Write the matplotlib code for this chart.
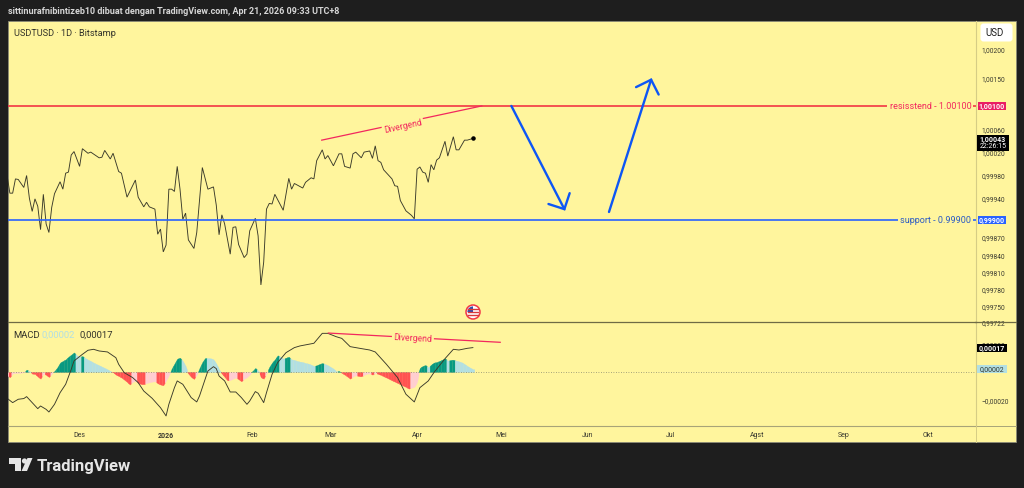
import numpy as np
import matplotlib
matplotlib.use('Agg')
import matplotlib.pyplot as plt
from matplotlib.patches import Rectangle, FancyBboxPatch, Polygon, Circle, Wedge

plt.rcParams['font.family'] = ['Roboto', 'DejaVu Sans']

W, H = 1024, 489

# price line, days counted from 2026-01-01
price_days = [-57, -56, -55, -54, -53, -51, -50, -49, -48, -47, -46, -45, -44, -43, -42, -41, -40, -38, -37, -36,
              -35, -34, -33, -31, -30, -28, -27, -24, -23, -22, -20, -19, -17, -16, -14, -11, -10, -8, -7, -6,
              -4, -3, -2, -1, 0, 1, 2, 3, 4, 5, 6, 7, 8, 10, 11, 13, 15, 17, 18, 19,
              20, 21, 23, 24, 25, 26, 28, 29, 30, 32, 33, 34, 35, 36, 37, 38, 39, 42, 44, 45,
              46, 49, 50, 52, 53, 54, 56, 57, 58, 60, 62, 63, 64, 66, 67, 68, 70, 71, 73, 74,
              75, 76, 77, 78, 81, 82, 83, 84, 86, 87, 88, 89, 90, 91, 92, 93, 94, 95, 96, 97,
              98, 100, 101, 103, 104, 105, 107, 108, 110]
price_vals = [0.99978, 0.99947, 0.99947, 0.99972, 0.99971, 0.99957, 0.99978, 0.99938, 0.99915, 0.99937,
              0.99924, 0.99883, 0.99945, 0.99893, 0.99878, 0.99922, 0.99946, 0.99967, 0.99954, 0.99982,
              0.99984, 1.00014, 1.00020, 0.99994, 1.00025, 1.00017, 1.00019, 1.00009, 1.00010, 1.00022,
              1.00007, 1.00017, 0.99985, 0.99982, 0.99940, 0.99970, 0.99940, 0.99923, 0.99931, 0.99923,
              0.99919, 0.99875, 0.99884, 0.99844, 0.99856, 0.99954, 0.99954, 0.99950, 0.99994, 0.99954,
              0.99901, 0.99912, 0.99865, 0.99850, 0.99878, 0.99992, 0.99954, 0.99958, 0.99926, 0.99874,
              0.99909, 0.99893, 0.99840, 0.99887, 0.99888, 0.99857, 0.99834, 0.99840, 0.99881, 0.99903,
              0.99872, 0.99786, 0.99826, 0.99919, 0.99929, 0.99928, 0.99945, 0.99917, 0.99973, 0.99954,
              0.99964, 0.99956, 0.99966, 0.99974, 0.99972, 1.00004, 1.00023, 1.00007, 1.00013, 0.99995,
              1.00016, 1.00016, 0.99994, 0.99991, 1.00016, 1.00019, 1.00009, 1.00019, 1.00021, 1.00008,
              1.00030, 1.00004, 1.00001, 0.99988, 0.99972, 0.99960, 0.99959, 0.99934, 0.99916, 0.99912,
              0.99908, 0.99902, 0.99989, 0.99993, 0.99984, 0.99982, 0.99966, 0.99997, 0.99988, 1.00005,
              1.00009, 1.00038, 1.00012, 1.00046, 1.00023, 1.00023, 1.00040, 1.00040, 1.00043]

# MACD line
macd_days = [-57, -55, -53, -51, -50, -48, -46, -45, -43, -42, -40, -38, -36, -34, -33, -30, -28, -26, -24, -21,
             -18, -17, -15, -12, -10, -8, -5, -2, 0, 1, 3, 4, 6, 9, 11, 12, 14, 15, 17, 18,
             19, 21, 23, 25, 27, 29, 30, 32, 33, 35, 36, 38, 40, 43, 46, 48, 53, 56, 58, 61,
             63, 66, 70, 73, 75, 79, 83, 86, 89, 91, 94, 96, 100, 103, 105, 108, 110]
macd_vals = [-0.000188, -0.000219, -0.000195, -0.000190, -0.000176, -0.000219, -0.000262, -0.000243, -0.000267,
             -0.000286, -0.000231, -0.000148, -0.000088, 0.000019, 0.000079, 0.000126, 0.000155, 0.000162, 0.000150,
             0.000143, 0.000102, 0.000055, -0.000005, -0.000040, -0.000076, -0.000136, -0.000188, -0.000255, -0.000314,
             -0.000231, -0.000112, -0.000064, -0.000088, -0.000183, -0.000214, -0.000171, -0.000052, 0.000007, 0.000038,
             0.000024, -0.000029, -0.000064, -0.000143, -0.000143, -0.000183, -0.000231, -0.000207, -0.000140, -0.000152,
             -0.000219, -0.000148, -0.000017, 0.000067, 0.000138, 0.000174, 0.000186, 0.000205, 0.000276, 0.000276,
             0.000252, 0.000240, 0.000181, 0.000167, 0.000157, 0.000143, 0.000055, -0.000040, -0.000159, -0.000214,
             -0.000112, -0.000064, -0.000005, 0.000095, 0.000162, 0.000157, 0.000169, 0.000174]

# histogram, one value a day from day -57, in millionths
hist_first_day = -57
hist_vals = [-24, -38, -10, -7, -6, -5, -2, 17, 7, -12, -14, -33, -48, -12, -21, -36, -12, 7, 33, 67,
             79, 90, 109, 124, 140, 119, 109, 114, 100, 88, 79, 67, 57, 48, 38, 29, 19, 7, -2, -19,
             -29, -40, -55, -71, -90, -71, -64, -79, -86, -88, -79, -74, -69, -67, -81, -90, -95, -60, -24, 24,
             60, 95, 102, 79, 43, -12, -36, -50, -19, 29, 71, 100, 99, 98, 90, 60, 19, -12, -36, -60,
             -57, -48, -40, -52, -67, -48, -38, -19, 7, 29, 10, -38, -48, -7, 36, 67, 90, 119, 109, 95,
             102, 109, 90, 86, 79, 74, 71, 64, 60, 52, 43, 48, 57, 64, 57, 48, 36, 24, 5, 7,
             -7, -19, -33, -48, -33, -24, -29, -31, -21, -12, -11, -19, -7, -14, -21, -31, -40, -50, -60, -69,
             -79, -88, -98, -107, -119, -112, -107, -71, 29, 43, 50, 33, 52, 67, 71, 79, 88, 98, 81, 86,
             88, 81, 76, 69, 57, 43, 31, 20]

month_labels = ['Des', '2026', 'Feb', 'Mar', 'Apr', 'Mei', 'Jun', 'Jul', 'Agst', 'Sep', 'Okt']
month_days = [-31, 0, 31, 59, 90, 120, 151, 181, 212, 243, 273]
price_ticks = [1.00200, 1.00150, 1.00060, 1.00020, 0.99980, 0.99940, 0.99870, 0.99840, 0.99810, 0.99780, 0.99750, 0.99722]
macd_ticks = [0.00020, -0.00020]

resistance = 1.00100
support = 0.99900
last_price = 1.00043
last_macd = 0.00017
last_hist = 0.00002

# drawings on the chart, (day, price) or (day, macd)
arrow_down = [(123.8, 1.00100), (142.8, 0.99919)]
arrow_down_head = [(137.1, 0.99928), (142.8, 0.99919), (144.7, 0.99947)]
arrow_up = [(158.8, 0.99914), (173.9, 1.00146)]
arrow_up_head = [(168.5, 1.00133), (173.9, 1.00146), (176.6, 1.00120)]
div_price = [(55.8, 1.00040), (113.2, 1.00100)]
div_macd = [(58.2, 0.000278), (119.8, 0.000212)]

YELLOW = '#fff59d'
DARK = '#1e1e1e'
RED = '#f23645'
PINK = '#f2275e'
BLUE = '#2962ff'
LINE = '#3a3a2a'
TICK = '#3a3a30'


def rect(x0, y0, x1, y1):
    # pixel box, top-left origin, to figure fractions
    return [x0 / W, 1 - y1 / H, (x1 - x0) / W, (y1 - y0) / H]


def fmt(v):
    s = f'{abs(v):.5f}'.replace('.', ',')
    return ('\u2212' + s) if v < 0 else s


fig = plt.figure(figsize=(W / 100, H / 100), dpi=100, facecolor=DARK)

# pixel layers behind and in front of the chart
back = fig.add_axes([0, 0, 1, 1], zorder=-1)
back.set_xlim(0, W)
back.set_ylim(H, 0)
back.axis('off')
front = fig.add_axes([0, 0, 1, 1], zorder=5)
front.set_xlim(0, W)
front.set_ylim(H, 0)
front.axis('off')

back.add_patch(Rectangle((8, 21.5), 1008, 421.5, fc=YELLOW, ec='#8a8a78', lw=0.6))

xlim = (-56.67, 290.2)

ax = fig.add_axes(rect(8, 22, 975.5, 323), facecolor='none')
ax.set_xlim(*xlim)
ax.set_ylim(0.99721, 1.00249)
ax.plot(price_days, price_vals, color=LINE, lw=0.65, solid_joinstyle='miter')
ax.scatter(price_days[-1], price_vals[-1], s=5, color='black', zorder=4)
ax.axhline(resistance, color=RED, lw=1.2)
ax.axhline(support, color=BLUE, lw=1.2)

for seg, head in [(arrow_down, arrow_down_head), (arrow_up, arrow_up_head)]:
    ax.plot(*zip(*seg), color='#0d56f5', lw=1.7, solid_capstyle='round')
    ax.plot(*zip(*head), color='#0d56f5', lw=1.7, solid_capstyle='round', solid_joinstyle='miter')

ax.plot(*zip(*div_price), color=PINK, lw=0.9)
ax.text(84.9, 1.00065, 'Divergend', color=PINK, fontsize=6.2, rotation=12.2, ha='center', va='center',
        rotation_mode='anchor', bbox=dict(fc=YELLOW, ec='none', pad=1.2))

# right hand line labels, the box hides the line under the text
ax.text(288.7, resistance, 'resisstend - 1.00100', color=PINK, fontsize=6.5, ha='right', va='center',
        bbox=dict(fc=YELLOW, ec='none', pad=1.5))
ax.text(288.7, support, 'support - 0.99900', color='#2b5bc4', fontsize=6.5, ha='right', va='center',
        bbox=dict(fc=YELLOW, ec='none', pad=1.5))
ax.text(0.0065, 0.963, 'USDTUSD \u00b7 1D \u00b7 Bitstamp', transform=ax.transAxes, color='#33332a', fontsize=6.6,
        ha='left', va='center')

ax.set_xticks([])
ax.yaxis.tick_right()
ax.set_yticks(price_ticks)
ax.set_yticklabels([fmt(v) for v in price_ticks], fontsize=4.8, color=TICK, va='center_baseline')
ax.tick_params(axis='y', length=0, pad=4.6)
for side in ax.spines:
    ax.spines[side].set_visible(False)
ax.spines['right'].set_visible(True)
ax.spines['right'].set_color('#d6cd85')

ax2 = fig.add_axes(rect(8, 323, 975.5, 427), facecolor='none')
ax2.set_xlim(*xlim)
ax2.set_ylim(-0.000386, 0.000357)

hist = np.array(hist_vals) * 1e-6
days = np.arange(len(hist)) + hist_first_day
for i, v in enumerate(hist):
    rising = i == 0 or v >= hist[i - 1]
    if v >= 0:
        col = '#089981' if rising else '#b2dfe3'
    else:
        col = '#ffcdd2' if rising else '#ff5252'
    # area style: each day slopes from the mean with the day before to the mean with the day after
    before = (hist[i - 1] + v) / 2 if i > 0 else v
    after = (hist[i + 1] + v) / 2 if i < len(hist) - 1 else v
    if before * v < 0:
        before = 0
    if after * v < 0:
        after = 0
    ax2.fill_between([days[i] - 0.5, days[i], days[i] + 0.5], [before, v, after], 0, color=col, lw=0.2)
ax2.axhline(0, color='#8a8a70', lw=0.6, ls=(0, (1, 2)))
ax2.plot(macd_days, macd_vals, color=LINE, lw=0.65)

ax2.plot(*zip(*div_macd), color=PINK, lw=0.9)
ax2.text(88.5, 0.000245, 'Divergend', color=PINK, fontsize=6.2, rotation=-3, ha='center', va='center',
         rotation_mode='anchor', bbox=dict(fc=YELLOW, ec='none', pad=1.2))

ax2.set_xticks(month_days)
ax2.set_xticklabels(month_labels, fontsize=5, color=TICK)
ax2.get_xticklabels()[1].set_fontweight('bold')
ax2.tick_params(axis='x', length=0, pad=3.8)
ax2.yaxis.tick_right()
ax2.set_yticks(macd_ticks)
ax2.set_yticklabels([fmt(v) for v in macd_ticks], fontsize=4.8, color=TICK, va='center_baseline')
ax2.tick_params(axis='y', length=0, pad=4.6)
for side in ax2.spines:
    ax2.spines[side].set_visible(False)
ax2.spines['top'].set_visible(True)
ax2.spines['top'].set_color('#6f6b45')
ax2.spines['top'].set_linewidth(0.9)
ax2.spines['bottom'].set_visible(True)
ax2.spines['bottom'].set_color('#a8a478')
ax2.spines['right'].set_visible(True)
ax2.spines['right'].set_color('#d6cd85')

# pane divider runs on through the price scale, and the time scale line too
front.plot([975, 1016], [323, 323], color='#6f6b45', lw=0.9)
front.plot([975, 1016], [427, 427], color='#a8a478', lw=0.7)
front.plot([976, 976], [427, 443], color='#d6cd85', lw=0.7)

# price scale badges
front.add_patch(Rectangle((978, 103), 28, 8, fc='#e91e63', ec='none'))
front.text(992, 107, fmt(resistance), color='white', fontsize=5, fontweight='bold', ha='center', va='center')
front.add_patch(Rectangle((978, 217), 28, 8, fc=BLUE, ec='none'))
front.text(992, 221, fmt(support), color='white', fontsize=5, fontweight='bold', ha='center', va='center')
front.add_patch(Rectangle((977, 136), 32, 15.5, fc='black', ec='none'))
front.text(993, 140, fmt(last_price), color='white', fontsize=5, fontweight='bold', ha='center', va='center')
front.text(993, 147, '22:26:15', color='white', fontsize=5, ha='center', va='center')
front.add_patch(Rectangle((977, 345), 30, 7.5, fc='black', ec='none'))
front.text(992, 348.7, fmt(last_macd), color='white', fontsize=5, fontweight='bold', ha='center', va='center')
front.add_patch(Rectangle((977, 366), 30, 8, fc='#b2dfe3', ec='none'))
front.text(992, 370, fmt(last_hist), color='#33332a', fontsize=5, ha='center', va='center')

front.add_patch(FancyBboxPatch((982, 26), 29, 15, boxstyle='round,pad=1.5,rounding_size=3', fc='white', ec='none'))
front.text(994.5, 33.5, 'USD', color='#1e1e1e', fontsize=7, ha='center', va='center')

# legend of the MACD pane
front.text(13.5, 335.5, 'MACD', color='#33332a', fontsize=6.8, ha='left', va='center')
front.text(42, 335.5, fmt(last_hist), color='#b2dfe3', fontsize=6.8, ha='left', va='center')
front.text(80, 335.5, fmt(last_macd), color='#33332a', fontsize=6.8, ha='left', va='center')

# event flag
front.add_patch(Circle((473, 313), 7, fc='white', ec='#f23645', lw=1.1))
for yy, cc in [(310, '#d83a3a'), (313, '#d83a3a'), (316, '#d83a3a')]:
    front.plot([468, 478], [yy, yy], color=cc, lw=1.0)
front.add_patch(Wedge((473, 313), 5.6, 180, 270, fc='#2b4fb0', ec='none'))

# header and footer
front.text(8, 11.5, 'sittinurafnibintizeb10 dibuat dengan TradingView.com, Apr 21, 2026 09:33 UTC+8',
           color='#d6d6d6', fontsize=6.45, fontweight='bold', ha='left', va='center')
front.add_patch(Polygon([(9, 459), (21, 459), (21, 472), (15, 472), (15, 465), (9, 465)], fc='#e6e6e6', ec='none'))
front.add_patch(Circle((24.5, 462), 2.6, fc='#e6e6e6', ec='none'))
front.add_patch(Polygon([(27.5, 459), (32.5, 459), (27, 472), (21.5, 472)], fc='#e6e6e6', ec='none'))
front.text(37, 466.8, 'TradingView', color='#e6e6e6', fontsize=12, fontweight='bold', ha='left', va='center')

fig.savefig('out.png', dpi=100, facecolor=DARK)
plt.close()
